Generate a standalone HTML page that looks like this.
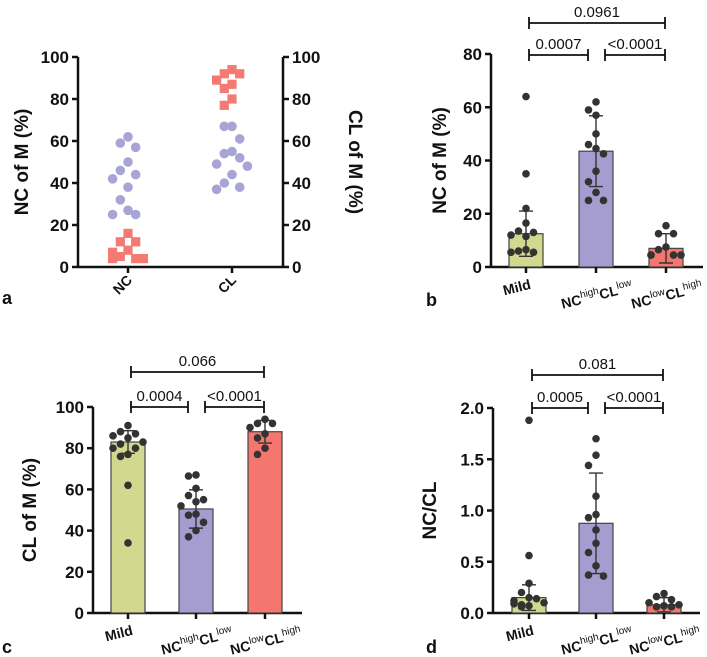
<!DOCTYPE html>
<html><head><meta charset="utf-8">
<style>
html,body{margin:0;padding:0;background:#fff;}
svg{display:block;font-family:"Liberation Sans",Arial,sans-serif;}
.tick{font-size:17px;font-weight:bold;fill:#111;}
.ttl{font-size:19px;font-weight:bold;fill:#111;}
.pv{font-size:15px;fill:#111;}
.cat{font-size:14px;font-weight:bold;fill:#111;}
.plab{font-size:18px;font-weight:bold;fill:#111;}
</style></head>
<body>
<svg id="fig" width="707" height="657" viewBox="0 0 707 657"></svg>
<script>
// ---------- Panel a data ----------
const aCats = ["NC", "CL"];
const aNcCircles = [62,59,57,50,46,44,42,38,32,27,25,25];
const aNcSquares = [16,12,12,8,7,5,4,4,4];
const aClCircles = [67,67,61,55,54,52,49,48,44,40,38,37];
const aClSquares = [94,92,92,89,87,85,80,77];
const aTicks = [0,20,40,60,80,100];

// ---------- Panels b-d data ----------
const groups = ["Mild","NChigh CLlow","NClow CLhigh"];
const bMeans = [12.5,43.5,7];
const bSD = [8.5,13.3,5.5];
const bMild = [64,35,22,16.5,13.5,13,12,11.5,6.5,6,5.5,5.5];
const bNCh = [62,59,57,50,46,44.5,42.5,36,32,28,25,25];
const bNCl = [15.5,12.5,12.5,7.5,6.5,4.5,4.5,4.5,4.5];
const bTicks = [0,20,40,60,80];
const bP = ["0.0007","<0.0001","0.0961"];

const cMeans = [83,50.5,88];
const cSD = [5.5,9.3,5.5];
const cMild = [91,88,87,86,85,83,82,80,80,77,76,62,34];
const cNCh = [67,66.5,60.5,57,55,54,52,48,47.5,44,40,37];
const cNCl = [94,92,92,90,87,85,80,77];
const cTicks = [0,20,40,60,80,100];
const cP = ["0.0004","<0.0001","0.066"];

const dMeans = [0.15,0.875,0.08];
const dSD = [0.125,0.49,0.07];
const dMild = [1.88,0.56,0.29,0.2,0.15,0.14,0.12,0.1,0.09,0.08,0.07,0.06];
const dNCh = [1.7,1.54,1.44,1.14,0.96,0.93,0.81,0.68,0.59,0.46,0.37,0.36];
const dNCl = [0.19,0.16,0.13,0.1,0.08,0.07,0.06,0.06];
const dTicks = ["0.0","0.5","1.0","1.5","2.0"];
const dP = ["0.0005","<0.0001","0.081"];

const NS="http://www.w3.org/2000/svg";
const svg=document.getElementById('fig');
function el(tag,attrs,parent){const e=document.createElementNS(NS,tag);for(const k in attrs)e.setAttribute(k,attrs[k]);(parent||svg).appendChild(e);return e;}
function txt(s,x,y,cls,parent){const t=el('text',{x:x,y:y,class:cls},parent);t.textContent=s;return t;}

// band swarm: points within vertical band spread horizontally in slots
function swarm(vals,yf,band,step,maxk){
  const placed=[];const out=[];
  const cand=[0];for(let i=1;i<=maxk;i++){cand.push(-i*step);cand.push(i*step);}
  vals.forEach((v,idx)=>{
    const y=yf(v);
    // alternate starting side to spread
    let best=null,bestD=-1;
    for(const c of cand){
      const ok=placed.every(p=>!(Math.abs(p[0]-c)<step-0.1&&Math.abs(p[1]-y)<band));
      if(ok){best=c;break;}
    }
    if(best===null){best=cand[idx%cand.length];}
    placed.push([best,y]);out.push(best);
  });
  return out;
}

// ---------- Panel a ----------
(function(){
  const g=el('g',{});  
  const x0=78,x1=283,y0=267,y1=57;
  const y=v=>y0-(v/100)*(y0-y1);
  const cx=[128,232];
  el('line',{x1:x0,y1:y1,x2:x0,y2:y0,stroke:'#111','stroke-width':2.5},g);
  el('line',{x1:x1,y1:y1,x2:x1,y2:y0,stroke:'#111','stroke-width':2.5},g);
  el('line',{x1:x0,y1:y0,x2:x1,y2:y0,stroke:'#111','stroke-width':2.5},g);
  aTicks.forEach(t=>{
    el('line',{x1:x0-6,y1:y(t),x2:x0,y2:y(t),stroke:'#111','stroke-width':2.5},g);
    el('line',{x1:x1,y1:y(t),x2:x1+6,y2:y(t),stroke:'#111','stroke-width':2.5},g);
    const a=txt(String(t),x0-9,y(t)+6,'tick',g);a.setAttribute('text-anchor','end');
    
    const b=txt(String(t),x1+9,y(t)+6,'tick',g);
    
  });
  aCats.forEach((c,i)=>{
    el('line',{x1:cx[i],y1:y0,x2:cx[i],y2:y0+6,stroke:'#111','stroke-width':2.5},g);
    const t=txt(c,0,0,'cat',g);t.setAttribute('text-anchor','end');
    t.setAttribute('transform',`translate(${cx[i]+5},${y0+14}) rotate(-45)`);
    
  });
  const yt=txt('NC of M (%)',0,0,'ttl',g);yt.setAttribute('text-anchor','middle');
  yt.setAttribute('transform',`translate(28,${(y0+y1)/2}) rotate(-90)`);
  
  const yt2=txt('CL of M (%)',0,0,'ttl',g);yt2.setAttribute('text-anchor','middle');
  yt2.setAttribute('transform',`translate(349,${(y0+y1)/2}) rotate(90)`);
  
  const pl=txt('a',2,304,'plab',g);
  function sq(vals,c){const offs=swarm(vals,y,14,7.7,2);vals.forEach((v,i)=>{
    const r=el('rect',{x:cx[c]+offs[i]-4.6,y:y(v)-4.6,width:9.2,height:9.2,fill:'#f37b73'},g);
    });}
  function ci(vals,c){const offs=swarm(vals,y,18,7.7,2);vals.forEach((v,i)=>{
    const r=el('circle',{cx:cx[c]+offs[i],cy:y(v),r:4.8,fill:'#a8a4d6'},g);
    });}
  ci(aNcCircles,0);sq(aNcSquares,0);ci(aClCircles,1);sq(aClSquares,1);
})();

// ---------- Bar panels ----------
function barPanel(o){
  const g=el('g',{});  
  const y=v=>o.y0-(v/o.max)*(o.y0-o.y1);
  el('line',{x1:o.x0,y1:o.y1,x2:o.x0,y2:o.y0,stroke:'#111','stroke-width':2.5},g);
  el('line',{x1:o.x0,y1:o.y0,x2:o.x1,y2:o.y0,stroke:'#111','stroke-width':2.5},g);
  o.ticks.forEach(t=>{
    const v=parseFloat(t);
    el('line',{x1:o.x0-6,y1:y(v),x2:o.x0,y2:y(v),stroke:'#111','stroke-width':2.5},g);
    const a=txt(String(t),o.x0-9,y(v)+6,'tick',g);a.setAttribute('text-anchor','end');
    
  });
  const cols=['#d2d98e','#a59ccf','#f4766f'];
  const pts=[o.p0,o.p1,o.p2];
  groups.forEach((gname,i)=>{
    const cx=o.cx[i],w=34;
    const b=el('rect',{x:cx-w/2,y:y(o.means[i]),width:w,height:o.y0-y(o.means[i]),fill:cols[i],stroke:'#444','stroke-width':1.2},g);
    
    el('line',{x1:cx,y1:o.y0,x2:cx,y2:o.y0+6,stroke:'#111','stroke-width':2.5},g);
    const offs=swarm(pts[i],y,12,7.5,2);
    pts[i].forEach((v,j)=>{
      const c=el('circle',{cx:cx+offs[j],cy:y(v),r:3.8,fill:'#333'},g);
      
    });
    const hi=y(o.means[i]+o.sd[i]),lo=y(Math.max(0,o.means[i]-o.sd[i]));
    const eb=el('path',{d:`M${cx},${lo}V${hi}M${cx-7},${hi}H${cx+7}M${cx-7},${lo}H${cx+7}`,stroke:'#333','stroke-width':1.4,fill:'none'},g);
    
  });
  const labs=[['Mild'],['NC','high','CL','low'],['NC','low','CL','high']];
  labs.forEach((l,i)=>{
    const t=el('text',{class:'cat','text-anchor':'middle',transform:`translate(${o.cx[i]-(i==0?8:-2)},${o.y0+(i==0?25:33)}) rotate(-14)`},g);
    
    l.forEach((s,k)=>{const ts=el('tspan',k%2?{'font-size':'10','font-weight':'normal',dy:'-6'}:(k==2?{dy:'6'}:{}),t);ts.textContent=s;});
  });
  function br(xa,xb,yy,label){
    el('path',{d:`M${xa},${yy+6}V${yy-6}M${xa},${yy}H${xb}M${xb},${yy+6}V${yy-6}`,stroke:'#111','stroke-width':1.8,fill:'none'},g);
    const t=txt(label,(xa+xb)/2,yy-6,'pv',g);t.setAttribute('text-anchor','middle');
    
  }
  br(o.cx[0]+3,o.cx[1]-8,o.by1,o.pv[0]);
  br(o.cx[1]+9,o.cx[2]-1,o.by1,o.pv[1]);
  br(o.cx[0]+3,o.cx[2]-1,o.by2,o.pv[2]);
  const yt=txt(o.title,0,0,'ttl',g);yt.setAttribute('text-anchor','middle');
  yt.setAttribute('transform',`translate(${o.tx},${(o.y0+o.y1)/2}) rotate(-90)`);
  
  const pl=txt(o.label,o.lx,o.ly,'plab',g);
}
barPanel({label:'b',x0:491,x1:703,y0:267,y1:54,max:80,cx:[526,596,666],means:bMeans,sd:bSD,p0:bMild,p1:bNCh,p2:bNCl,ticks:bTicks,pv:bP,by1:55,by2:23,title:'NC of M (%)',tx:446,lx:426,ly:306});
barPanel({label:'c',x0:93,x1:302,y0:613,y1:407,max:100,cx:[128,196,265],means:cMeans,sd:cSD,p0:cMild,p1:cNCh,p2:cNCl,ticks:cTicks,pv:cP,by1:407,by2:372,title:'CL of M (%)',tx:36,lx:2,ly:653});
barPanel({label:'d',x0:493,x1:700,y0:613,y1:408,max:2,cx:[529,596,664],means:dMeans,sd:dSD,p0:dMild,p1:dNCh,p2:dNCl,ticks:dTicks,pv:dP,by1:408,by2:375,title:'NC/CL',tx:436,lx:426,ly:653});
</script>
</body></html>
